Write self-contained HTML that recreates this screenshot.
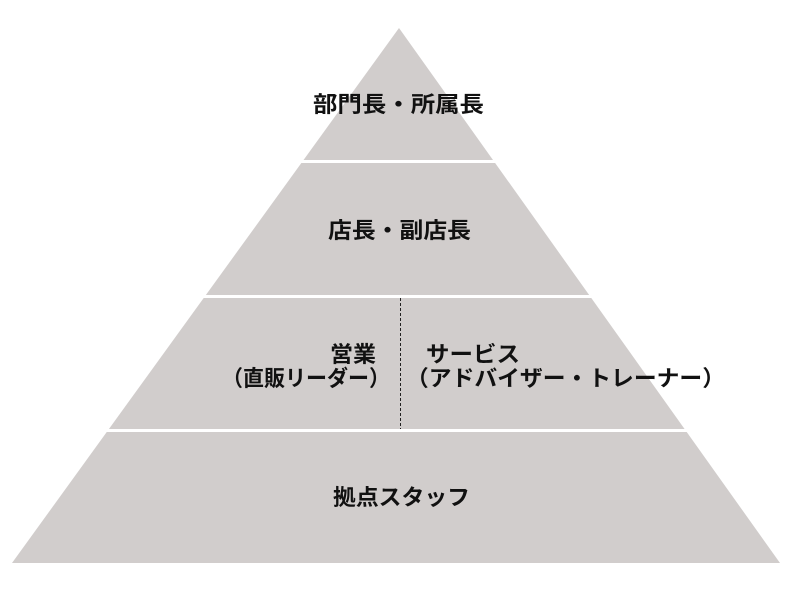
<!DOCTYPE html>
<html><head><meta charset="utf-8"><style>
body{margin:0;background:#fff;width:800px;height:600px;overflow:hidden}
text{font-family:"Liberation Sans","Noto Sans CJK JP",sans-serif;font-size:22px;font-weight:bold;fill:#111}
</style></head><body>
<svg width="800" height="600" xmlns="http://www.w3.org/2000/svg">
<polygon points="399,28 12,563 780,563" fill="#d1cdcc"/>
<rect x="0" y="160" width="800" height="3" fill="#fff"/>
<rect x="0" y="295" width="800" height="3" fill="#fff"/>
<rect x="0" y="429" width="800" height="3" fill="#fff"/>
<line x1="400.5" y1="298" x2="400.5" y2="429" stroke="#222" stroke-width="1" stroke-dasharray="3,2"/>
<text x="313" y="112" textLength="171" lengthAdjust="spacingAndGlyphs">部門長・所属長</text>
<text x="328" y="238" textLength="143" lengthAdjust="spacingAndGlyphs">店長・副店長</text>
<text x="330" y="362" textLength="46" lengthAdjust="spacingAndGlyphs">営業</text>
<text x="222" y="386" textLength="168" lengthAdjust="spacingAndGlyphs">（直販リーダー）</text>
<text x="426" y="362" textLength="94" lengthAdjust="spacingAndGlyphs">サービス</text>
<text x="406" y="386" textLength="319" lengthAdjust="spacingAndGlyphs">（アドバイザー・トレーナー）</text>
<text x="333" y="505" textLength="137" lengthAdjust="spacingAndGlyphs">拠点スタッフ</text>
</svg>
</body></html>
